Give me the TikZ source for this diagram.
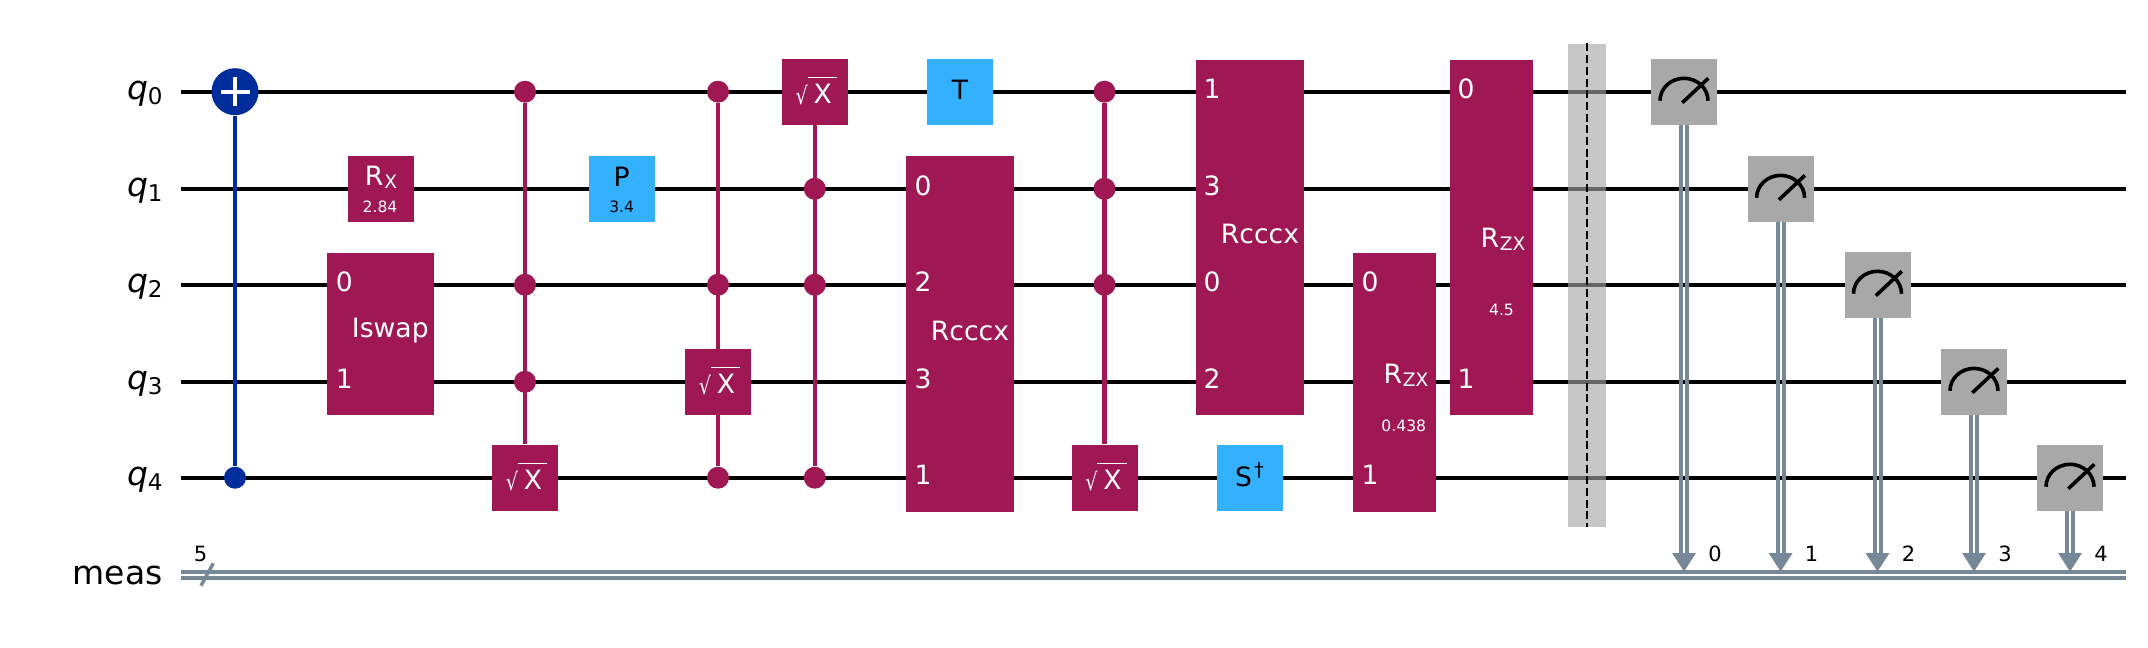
\documentclass[tikz,border=0pt]{standalone}
\usepackage{fontspec}
\setmainfont{DejaVu Sans}
\usetikzlibrary{calc}
\pgfdeclarelayer{wirelayer}
\pgfdeclarelayer{linklayer}
\pgfsetlayers{wirelayer,linklayer,main}
\definecolor{crim}{HTML}{9F1853}
\definecolor{sky}{HTML}{33B1FF}
\definecolor{cxblue}{HTML}{002D9C}
\definecolor{meter}{HTML}{A8A8A8}
\definecolor{cl}{HTML}{778899}
\definecolor{barr}{HTML}{A5A5A5}
\newcommand{\qlab}[1]{{\itshape q}\raisebox{-2.5pt}{\fontsize{11.5}{12}\selectfont #1}}
\newcommand{\subtxt}[1]{\kern.4pt\raisebox{-1.6pt}{\fontsize{9.3}{10}\selectfont #1}}
\newcommand{\sqx}{\raisebox{-.6pt}{\scalebox{.8}[1]{\fontsize{12}{12}\selectfont √}}\kern-.2pt\vbox{\hrule height .45pt \kern 3.1pt\hbox{\kern3.1pt X\kern 2.5pt}}}
\tikzset{
  qwire/.style={line width=2.15pt,black},
  gatebox/.style={rectangle,draw=none,inner sep=0pt,minimum width=33pt,minimum height=33pt},
  redbox/.style={gatebox,fill=crim},
  bluebox/.style={gatebox,fill=sky},
  measbox/.style={gatebox,fill=meter},
  ctrl/.style={circle,draw=none,inner sep=0pt,minimum size=11pt,fill=crim},
  ctrlb/.style={circle,draw=none,inner sep=0pt,minimum size=11pt,fill=cxblue},
  target/.style={circle,draw=none,inner sep=0pt,minimum size=23.5pt,fill=cxblue},
  link/.style={line width=2.2pt,crim},
  gtxt/.style={inner sep=0pt,font=\fontsize{13.3}{15}\selectfont,text=white},
  gtxtk/.style={inner sep=0pt,font=\fontsize{13.3}{15}\selectfont,text=black},
  sqtxt/.style={gtxt,anchor=base},
  ptxt/.style={inner sep=0pt,font=\fontsize{7.8}{9}\selectfont,text=white},
  ptxtk/.style={inner sep=0pt,font=\fontsize{7.8}{9}\selectfont,text=black},
  wlab/.style={inner sep=0pt,font=\fontsize{16.5}{18}\selectfont,anchor=base east},
  smalltxt/.style={inner sep=0pt,font=\fontsize{10.5}{11}\selectfont,text=black},
  clline/.style={line width=2pt,cl},
}
\begin{document}
\begin{tikzpicture}[x=0.5pt,y=-0.5pt]
\useasboundingbox (0,0) rectangle (2148,648);
\begin{pgfonlayer}{wirelayer}
\fill[white] (0,0) rectangle (2148,648);
\end{pgfonlayer}
% wire ends
\foreach \i/\yy in {0/91.7,1/188.8,2/284.7,3/381.8,4/477.7}{
  \coordinate (ws\i) at (181,\yy);
  \coordinate (we\i) at (2126,\yy);
  \node[wlab] (lab\i) at (163,\yy+7.5) {\qlab{\i}};
  \begin{pgfonlayer}{wirelayer}
    \draw[qwire] (ws\i) -- (we\i);
  \end{pgfonlayer}
}
\node[wlab] (labm) at (163,584) {meas};
\coordinate (cs1) at (181,572);
\coordinate (ce1) at (2126,572);
\coordinate (cs2) at (181,578);
\coordinate (ce2) at (2126,578);
\coordinate (sa) at (201,585.7);
\coordinate (sb) at (213.3,563.3);
\draw[clline] (cs1) -- (ce1);
\draw[clline] (cs2) -- (ce2);
\draw[clline,line width=1.7pt] (sa) -- (sb);
\node[smalltxt] (five) at (200.5,553.7) {5};

% CX
\node[target] (t0) at (235,91.7) {};
\node[ctrlb] (c0) at (235,477.7) {};
\coordinate (tl) at (220.5,91.7); \coordinate (tr) at (249.5,91.7);
\coordinate (tt) at (235,77.2); \coordinate (tb) at (235,106.2);
\draw[white,line width=2pt] (tl) -- (tr);
\draw[white,line width=2pt] (tt) -- (tb);
\begin{pgfonlayer}{linklayer}
\draw[line width=2.2pt,cxblue] (t0) -- (c0);
\end{pgfonlayer}

% Rx
\node[redbox] (rx) at (381,188.8) {};
\node[gtxt] (rxl) at (381,177) {R\subtxt{X}};
\node[ptxt] (rxp) at (380,206.6) {2.84};

% Iswap
\node[redbox,minimum width=53.5pt,minimum height=80.8pt] (isw) at (380.5,333.7) {};
\node[gtxt] (iswl) at (390.3,331) {Iswap};
\node[gtxt] (isw0) at (344.4,282) {0};
\node[gtxt] (isw1) at (344.4,379) {1};

% C3 sqrt X
\node[ctrl] (a0) at (525,91.7) {};
\node[ctrl] (a2) at (525,284.7) {};
\node[ctrl] (a3) at (525,381.8) {};
\node[redbox] (a4) at (525,477.7) {};
\node[sqtxt] (a4l) at (526.5,489) {\sqx};
\begin{pgfonlayer}{linklayer}
\draw[link] (a0) -- (a4);
\end{pgfonlayer}

% P
\node[bluebox] (pg) at (621.7,188.8) {};
\node[gtxtk] (pgl) at (621.7,177) {P};
\node[ptxtk] (pgp) at (621.7,206.6) {3.4};

% second
\node[ctrl] (b0) at (718,91.7) {};
\node[ctrl] (b2) at (718,284.7) {};
\node[redbox] (b3) at (718,381.8) {};
\node[sqtxt] (b3l) at (719.5,393) {\sqx};
\node[ctrl] (b4) at (718,477.7) {};
\begin{pgfonlayer}{linklayer}
\draw[link] (b0) -- (b4);
\end{pgfonlayer}

% third
\node[redbox] (d0) at (814.8,91.7) {};
\node[sqtxt] (d0l) at (816.3,103) {\sqx};
\node[ctrl] (d1) at (814.8,188.8) {};
\node[ctrl] (d2) at (814.8,284.7) {};
\node[ctrl] (d4) at (814.8,477.7) {};
\begin{pgfonlayer}{linklayer}
\draw[link] (d0) -- (d4);
\end{pgfonlayer}

% T
\node[bluebox] (tg) at (960,91.7) {};
\node[gtxtk] (tgl) at (960,89.5) {T};

% Rcccx 1
\node[redbox,minimum width=54pt,minimum height=177.9pt] (r1) at (960,333.7) {};
\node[gtxt] (r1l) at (970,331.4) {Rcccx};
\node[gtxt] (r1a) at (923,186) {0};
\node[gtxt] (r1b) at (923,282) {2};
\node[gtxt] (r1c) at (923,379) {3};
\node[gtxt] (r1d) at (923,475) {1};

% C3 sqrt X 2
\node[ctrl] (e0) at (1104.5,91.7) {};
\node[ctrl] (e1) at (1104.5,188.8) {};
\node[ctrl] (e2) at (1104.5,284.7) {};
\node[redbox] (e4) at (1104.5,477.7) {};
\node[sqtxt] (e4l) at (1106,489) {\sqx};
\begin{pgfonlayer}{linklayer}
\draw[link] (e0) -- (e4);
\end{pgfonlayer}

% Rcccx 2
\node[redbox,minimum width=54pt,minimum height=177.25pt] (r2) at (1250,237.25) {};
\node[gtxt] (r2l) at (1260,234.3) {Rcccx};
\node[gtxt] (r2a) at (1212,89) {1};
\node[gtxt] (r2b) at (1212,186) {3};
\node[gtxt] (r2c) at (1212,282) {0};
\node[gtxt] (r2d) at (1212,379) {2};

% S dagger
\node[bluebox] (sd) at (1250,477.7) {};
\node[gtxtk] (sdl) at (1249.5,475) {S\kern1.2pt\raisebox{5pt}{\fontsize{9.5}{10}\selectfont †}};

% RZX 1
\node[redbox,minimum width=41.5pt,minimum height=129.3pt] (z1) at (1394.5,382.3) {};
\node[gtxt] (z1l) at (1406,375) {R\subtxt{ZX}};
\node[ptxt] (z1p) at (1403.8,426) {0.438};
\node[gtxt] (z1a) at (1370,282) {0};
\node[gtxt] (z1b) at (1370,475) {1};

% RZX 2
\node[redbox,minimum width=41.5pt,minimum height=177.25pt] (z2) at (1491.6,237.25) {};
\node[gtxt] (z2l) at (1503,239) {R\subtxt{ZX}};
\node[ptxt] (z2p) at (1501.5,310) {4.5};
\node[gtxt] (z2a) at (1466,89) {0};
\node[gtxt] (z2b) at (1466,379) {1};

% barrier
\node[rectangle,draw=none,inner sep=0pt,minimum width=19pt,minimum height=241.6pt,fill=barr,fill opacity=.62] (bar) at (1587,285.4) {};
\draw[line width=1pt,black,dash pattern=on 4pt off 1.85pt] (bar.north) -- (bar.south);

% measures
\foreach \i/\xx/\yy in {0/1684/91.7,1/1780.6/188.8,2/1877.5/284.7,3/1974/381.8,4/2070/477.7}{
  \node[measbox] (m\i) at (\xx,\yy) {};
  \draw[line width=1.8pt,black] ([shift={(-24,9)}]m\i.center) arc[start angle=180,end angle=360,x radius=24,y radius=22.4];
  \draw[line width=1.8pt,black] ([shift={(-1.7,11)}]m\i.center) -- ([shift={(24.3,-13.4)}]m\i.center);
  \coordinate (tip\i) at (\xx,571.5);
  \coordinate (ab\i) at (\xx,555);
  \fill[cl] ([shift={(-12,-18.5)}]tip\i) -- ([shift={(12,-18.5)}]tip\i) -- (tip\i) -- cycle;
  \begin{pgfonlayer}{linklayer}
    \draw[clline] ([xshift=-1.5pt]m\i.south) -- ([xshift=-1.5pt]ab\i);
    \draw[clline] ([xshift=1.5pt]m\i.south) -- ([xshift=1.5pt]ab\i);
  \end{pgfonlayer}
  \node[smalltxt] (cb\i) at (\xx+31,553.7) {\i};
}
\end{tikzpicture}
\end{document}
